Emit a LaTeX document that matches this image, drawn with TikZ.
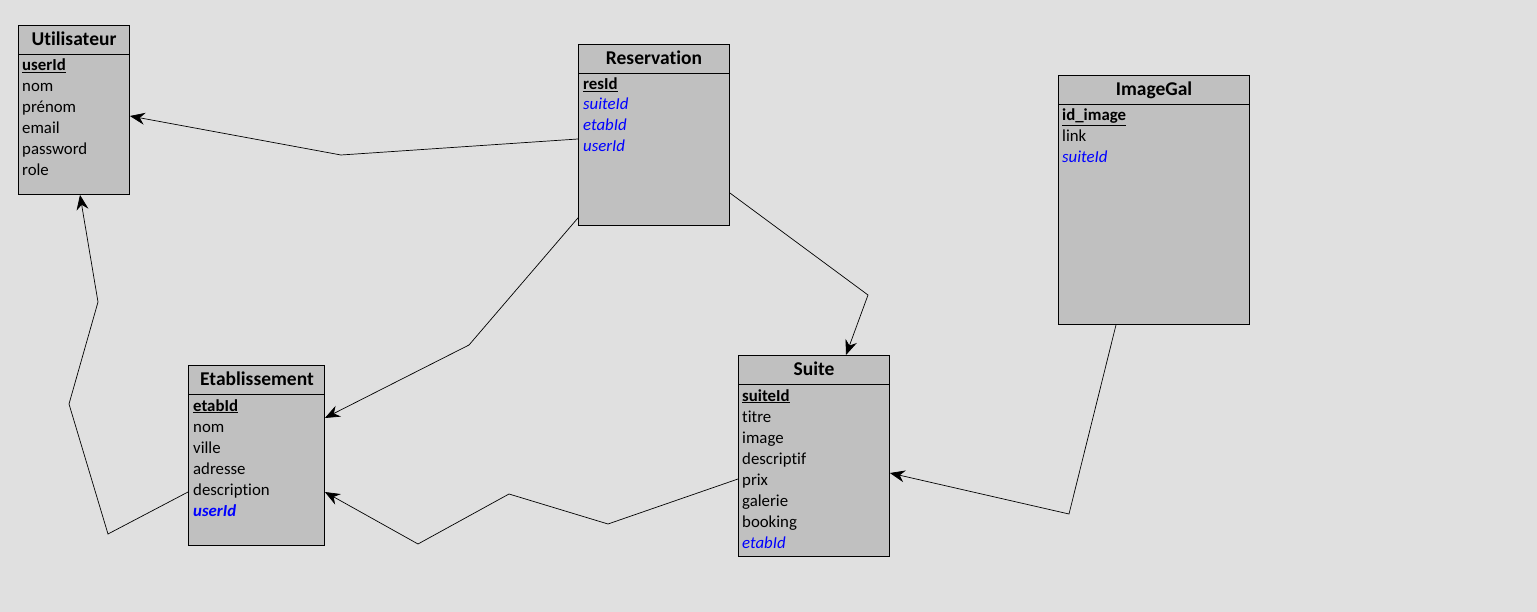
\documentclass[tikz,border=0pt]{standalone}
\usepackage{fontspec}
\setmainfont{Carlito}[Ligatures=NoCommon]
\usetikzlibrary{arrows.meta,calc}
\definecolor{canvas}{HTML}{E0E0E0}
\definecolor{boxgray}{HTML}{C0C0C0}
\definecolor{fkblue}{HTML}{0000FF}
\newcommand{\keyname}[1]{\underline{#1}}
\begin{document}
\begin{tikzpicture}[x=1pt,y=-1pt,
  entity/.style={draw=black, fill=boxgray, line width=0.9pt, anchor=north west, inner sep=0pt},
  title/.style={font=\fontsize{19.5}{22}\selectfont\bfseries, inner sep=0pt, text height=13pt, text depth=4pt},
  field/.style={font=\fontsize{16.8}{20}\selectfont, anchor=west, inner sep=0pt, text height=11pt, text depth=3pt},
  pk/.style={field, font=\fontsize{16.8}{20}\selectfont\bfseries},
  fk/.style={field, font=\fontsize{16.8}{20}\selectfont\itshape, text=fkblue},
  fkbold/.style={field, font=\fontsize{16.8}{20}\selectfont\bfseries\itshape, text=fkblue},
  divider/.style={line width=0.9pt},
  link/.style={line width=0.7pt, -{Stealth[length=15pt,width=12pt,inset=5pt]}}
]
\useasboundingbox (0,0) rectangle (1537,612);
\fill[canvas] (0,0) rectangle (1537,612);

% ---------- Utilisateur ----------
\node[entity, minimum width=111pt, minimum height=169pt] (usr) at (18,25) {};
\draw[divider] ($(usr.north west)+(0,29)$) -- ($(usr.north east)+(0,29)$);
\node[title] (usrT) at (74,41) {Utilisateur};
\node[pk] (usr1) at (22,67) {\keyname{userId}};
\node[field] (usr2) at (22,88) {nom};
\node[field] (usr3) at (22,109) {prénom};
\node[field] (usr4) at (22,130) {email};
\node[field] (usr5) at (22,151) {password};
\node[field] (usr6) at (22,172) {role};

% ---------- Reservation ----------
\node[entity, minimum width=151pt, minimum height=181pt] (res) at (578,44) {};
\draw[divider] ($(res.north west)+(0,29)$) -- ($(res.north east)+(0,29)$);
\node[title] (resT) at (654,60) {Reservation};
\node[pk] (res1) at (583,86) {\keyname{resId}};
\node[fk] (res2) at (583,106) {suiteId};
\node[fk] (res3) at (583,127) {etabId};
\node[fk] (res4) at (583,148) {userId};

% ---------- ImageGal ----------
\node[entity, minimum width=191pt, minimum height=249pt] (img) at (1058,75) {};
\draw[divider] ($(img.north west)+(0,29)$) -- ($(img.north east)+(0,29)$);
\node[title] (imgT) at (1154,91) {ImageGal};
\node[pk] (img1) at (1062,117) {\keyname{id\_image}};
\node[field] (img2) at (1062,138) {link};
\node[fk] (img3) at (1062,159) {suiteId};

% ---------- Etablissement ----------
\node[entity, minimum width=136pt, minimum height=180pt] (eta) at (188,365) {};
\draw[divider] ($(eta.north west)+(0,29)$) -- ($(eta.north east)+(0,29)$);
\node[title] (etaT) at (257,381) {Etablissement};
\node[pk] (eta1) at (193,407) {\keyname{etabId}};
\node[field] (eta2) at (193,428) {nom};
\node[field] (eta3) at (193,449) {ville};
\node[field] (eta4) at (193,470) {adresse};
\node[field] (eta5) at (193,491) {description};
\node[fkbold] (eta6) at (193,512) {userId};

% ---------- Suite ----------
\node[entity, minimum width=151pt, minimum height=201pt] (sui) at (738,355) {};
\draw[divider] ($(sui.north west)+(0,29)$) -- ($(sui.north east)+(0,29)$);
\node[title] (suiT) at (814,371) {Suite};
\node[pk] (sui1) at (742,397) {\keyname{suiteId}};
\node[field] (sui2) at (742,418) {titre};
\node[field] (sui3) at (742,439) {image};
\node[field] (sui4) at (742,460) {descriptif};
\node[field] (sui5) at (742,481) {prix};
\node[field] (sui6) at (742,502) {galerie};
\node[field] (sui7) at (742,523) {booking};
\node[fk] (sui8) at (742,544) {etabId};

% ---------- Relations ----------
% Reservation.userId -> Utilisateur
\draw[link] ($(res.north west)+(0,95)$) -- (341,155) -- ($(usr.north east)+(0,91)$);
% Reservation.etabId -> Etablissement
\draw[link] ($(res.south west)+(0,-8)$) -- (469,345) -- ($(eta.north east)+(0,53)$);
% Reservation.suiteId -> Suite
\draw[link] ($(res.north east)+(0,149)$) -- (868,295) -- ($(sui.north west)+(108,0)$);
% ImageGal.suiteId -> Suite
\draw[link] ($(img.south west)+(58,0)$) -- (1069,514) -- ($(sui.north east)+(0,118)$);
% Suite.etabId -> Etablissement
\draw[link] ($(sui.north west)+(0,124)$) -- (608,524) -- (509,494) -- (418,544) -- ($(eta.north east)+(0,127)$);
% Etablissement.userId -> Utilisateur
\draw[link] ($(eta.north west)+(0,127)$) -- (108,534) -- (69,404) -- (98,302) -- ($(usr.south west)+(62,0)$);
\end{tikzpicture}
\end{document}
